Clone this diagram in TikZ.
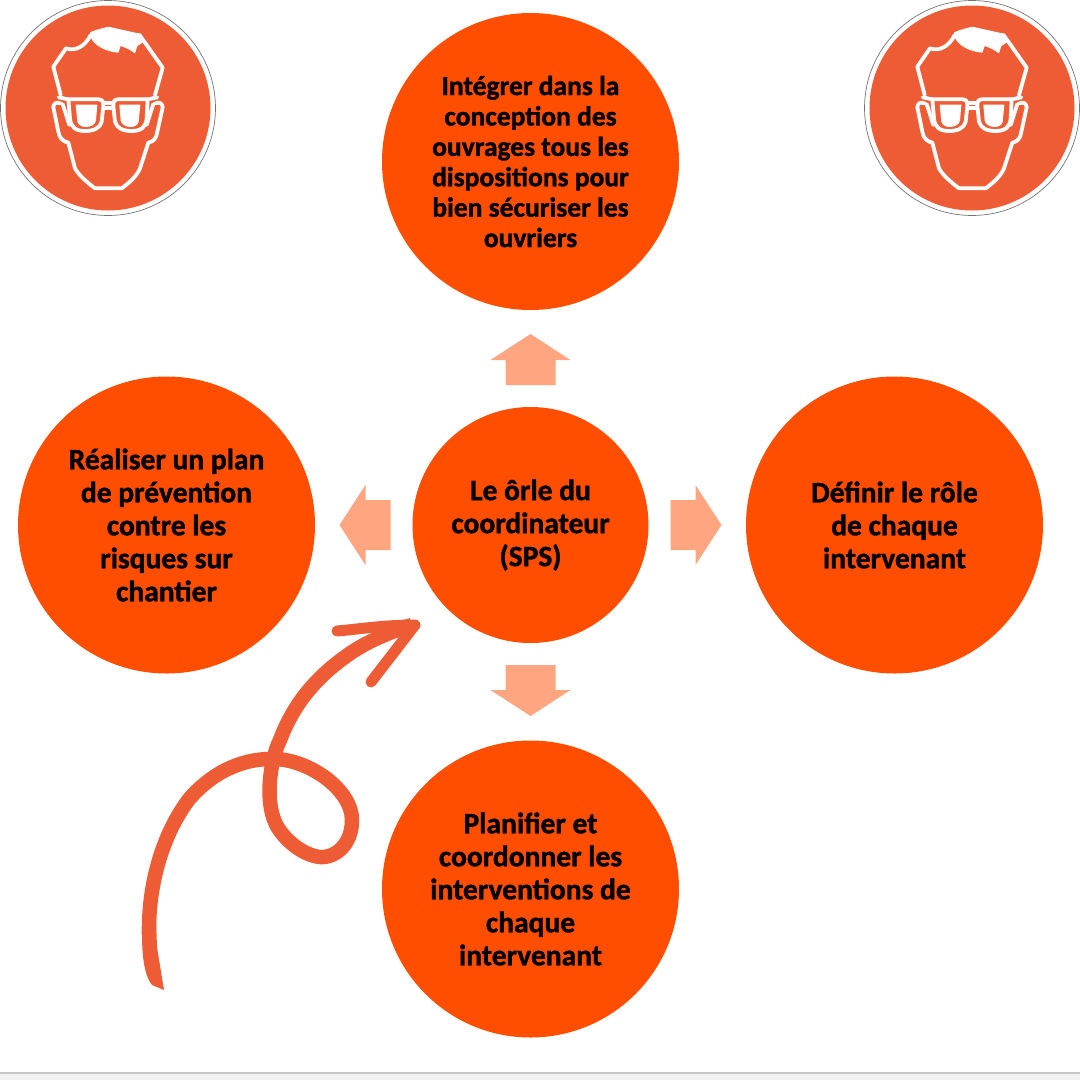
\documentclass[tikz,border=0pt]{standalone}
\usepackage{fontspec}
\setmainfont{Carlito}[BoldFeatures={FakeBold=1.2}]
\usepackage{tikz}
\definecolor{discorange}{HTML}{FF4E00}
\definecolor{signorange}{HTML}{EE5C35}
\definecolor{arrowpeach}{HTML}{FFA680}
\tikzset{
    bigdisc/.style={circle, fill=discorange, minimum size=297pt, inner sep=0pt, align=center, text=black,
        font=\fontsize{29.5}{33}\selectfont\bfseries},
    smalldisc/.style={bigdisc, minimum size=236pt},
    pics/safetyhead/.style={code={
        \node[circle, draw=black!55, line width=0.7pt, minimum size=215pt, inner sep=0pt] (ring) at (0,0) {};
        \node[circle, fill=signorange, minimum size=205pt, inner sep=0pt] (plate) at (0,0) {};
        \begin{scope}[scale=1/3, shift={(-324,-324)}, draw=white, fill=white, line width=3.8pt, line join=round, line cap=round]
            % Draw the hair
            \fill (270,97) .. controls (290,88) and (310,84) .. (325,80) -- (415,100) -- (432,125) -- (412,138) -- (405,160)
                .. controls (392,150) and (375,142) .. (362,138) -- (355,158)
                .. controls (320,155) and (285,140) .. (272,112) -- cycle;
            % Draw the head
            \draw (182,285) -- (160,200) -- (198,145) .. controls (225,155) and (255,140) .. (272,105);
            \draw (418,104) -- (488,203) -- (465,285);
            \draw (182,310) .. controls (170,305) and (160,310) .. (160,322) -- (175,395) .. controls (178,415) and (190,425) .. (205,428)
                -- (225,505) .. controls (235,525) and (265,550) .. (285,565) -- (365,565)
                .. controls (385,550) and (410,530) .. (420,505) -- (445,428) .. controls (460,425) and (470,415) .. (472,395)
                -- (488,322) .. controls (488,310) and (478,305) .. (466,310);
            % Draw the glasses
            \draw (205,298) -- (295,298) .. controls (308,298) and (310,305) .. (310,318) -- (305,365)
                .. controls (300,385) and (280,393) .. (255,393) .. controls (225,393) and (212,380) .. (210,355) -- cycle;
            \draw (443,298) -- (355,298) .. controls (342,298) and (340,305) .. (340,318) -- (345,365)
                .. controls (350,385) and (370,393) .. (395,393) .. controls (425,393) and (438,380) .. (440,355) -- cycle;
            \fill (227,314) -- (292,314) -- (288,362) .. controls (283,385) and (238,388) .. (232,365) -- cycle;
            \fill (421,314) -- (358,314) -- (362,362) .. controls (367,385) and (412,388) .. (416,365) -- cycle;
            \draw (312,310) -- (338,310);
            \draw (316,324) -- (334,324);
            \draw (176,292) -- (205,298);
            \draw (472,292) -- (443,298);
            \draw (188,312) -- (208,375);
            \draw (460,312) -- (440,375);
        \end{scope}
    }},
}

\begin{document}
\begin{tikzpicture}[x=1pt, y=-1pt]
    \useasboundingbox (0,0) rectangle (1080,1080);

    % Draw the grey strip at the bottom
    \fill[black!6] (0,1073) rectangle (1080,1080);
    \draw[black!22, line width=2pt] (0,1073) -- (1080,1073);

    % Draw the two signs
    \pic (signleft) at (108,108) {safetyhead};
    \pic (signright) at (972,108) {safetyhead};

    % Draw the discs
    \node[smalldisc] (role) at (530.5,525) {Le ôrle du\\coordinateur\\(SPS)};
    \node[bigdisc, font=\fontsize{27.5}{30.4}\selectfont\bfseries] (integrer) at (530.5,161.5) {Intégrer dans la\\conception des\\ouvrages tous les\\dispositions pour\\bien sécuriser les\\ouvriers};
    \node[bigdisc] (realiser) at (166.5,525) {Réaliser un plan\\de prévention\\contre les\\risques sur\\chantier};
    \node[bigdisc] (definir) at (894.5,525) {Définir le rôle\\de chaque\\intervenant};
    \node[bigdisc] (planifier) at (530.5,889) {Planifier et\\coordonner les\\interventions de\\chaque\\intervenant};

    % Draw the four block arrows
    \foreach \ang in {0,90,180,270}
        \fill[arrowpeach, rotate around={\ang:(role.center)}] ([xshift=140pt]role.center) ++(0,-25) -- ++(25,0) -- ++(0,-15) -- ++(26,40) -- ++(-26,40) -- ++(0,-15) -- ++(-25,0) -- cycle;

    % Draw the hand drawn arrow
    \fill[signorange] (142,933) .. controls (142,955) and (144,975) .. (152,985) -- (164,990) -- (157,947) -- (156,920) -- cycle;
    \draw[signorange, line width=14.5pt] (149,935) .. controls (148,880) and (165,830) .. (190,798)
        .. controls (215,770) and (245,758) .. (275,759) .. controls (310,760) and (352,790) .. (352,820)
        .. controls (352,845) and (335,858) .. (320,857) .. controls (300,855) and (280,835) .. (275,822)
        .. controls (265,800) and (270,760) .. (280,740) .. controls (295,700) and (320,675) .. (345,657)
        .. controls (365,642) and (390,632) .. (412,625);
    \draw[signorange, line width=11pt, line cap=round, line join=round] (337,631) .. controls (360,629) and (385,625) .. (415,625) -- (371,682);
\end{tikzpicture}
\end{document}
